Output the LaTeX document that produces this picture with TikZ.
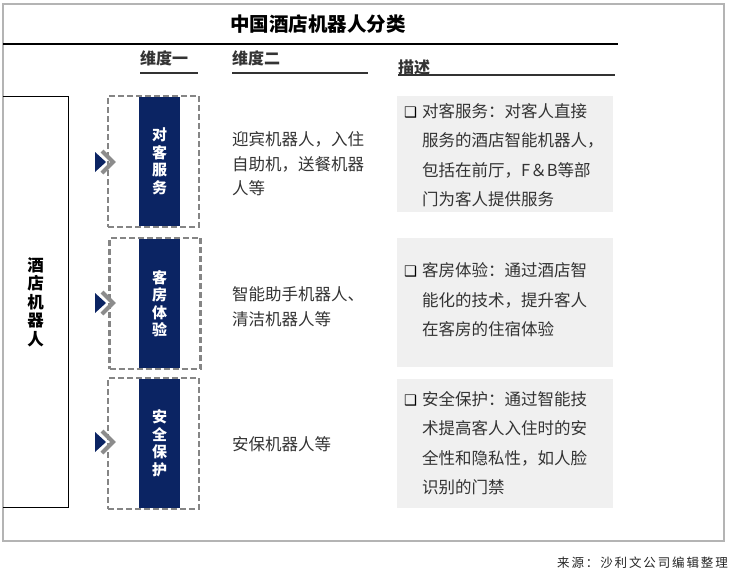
\documentclass[tikz,border=0pt]{standalone}
\usepackage{fontspec}
\setmainfont{Noto Sans CJK SC}
\newfontfamily\symfont{DejaVu Sans}
\usepackage{xcolor}
\usetikzlibrary{positioning}
\definecolor{navy}{HTML}{0B2463}
\definecolor{framegray}{HTML}{B4B4B4}
\definecolor{dashgray}{HTML}{858585}
\definecolor{chevgray}{HTML}{8C8C8C}
\definecolor{descfill}{HTML}{F0F0F0}
\definecolor{textgray}{HTML}{333333}
\newcommand{\boxmark}{\llap{{\color{black}\symfont\bfseries\fontsize{14.5}{14.5}\selectfont ❑}\hspace{5pt}}}

\begin{document}
\begin{tikzpicture}[
    x=1pt, y=-1pt,
    titletext/.style={font=\bfseries\fontsize{19.5}{22}\selectfont, text=black, inner sep=0pt},
    headtext/.style={font=\bfseries\fontsize{16}{18}\selectfont, text=textgray, inner sep=0pt, anchor=west},
    uline/.style={draw=textgray, line width=1.4pt},
    dimbox/.style={draw=dashgray, line width=2.2pt, dash pattern=on 6pt off 3pt, minimum width=91pt, minimum height=131pt, inner sep=0pt},
    navybar/.style={fill=navy, minimum width=41pt, minimum height=129pt, inner sep=0pt, align=center, text=white, font=\bfseries\fontsize{15}{17.5}\selectfont},
    dimtext/.style={anchor=west, align=left, inner sep=0pt, text=textgray, font=\fontsize{16.5}{24.5}\selectfont},
    descbox/.style={fill=descfill, minimum width=216pt, inner sep=0pt},
    desctext/.style={anchor=west, align=left, inner sep=0pt, text=textgray, font=\fontsize{16.5}{29.5}\selectfont},
    chev/.style={draw=chevgray, line width=4pt},
    tri/.style={fill=navy}
]
\useasboundingbox (0,0) rectangle (730,576);

% outer frame and title
\draw[framegray, line width=1.2pt] (3,4) rectangle (724,541);
\node[titletext] (title) at (318,24) {中国酒店机器人分类};
\draw[black, line width=2.4pt] (3,44) -- (618,44);

% column headers
\node[headtext] (h1) at (140,58) {维度一};
\node[headtext] (h2) at (232,58) {维度二};
\node[headtext] (h3) at (398,67) {描述};
\draw[uline] (140,73) -- (198,73);
\draw[uline] (232,73) -- (368,73);
\draw[uline] (398,75) -- (615,75);

% left box
\node[minimum width=65pt, minimum height=410pt, inner sep=0pt] (hotel) at (35.5,302) {};
\draw[black, line width=0.8pt] (hotel.north west) -- (hotel.north east) -- (hotel.south east) -- (hotel.south west);
\node[font=\bfseries\fontsize{16.5}{18.5}\selectfont, align=center, inner sep=0pt] (hoteltext) at (hotel.center) {酒\\店\\机\\器\\人};

% dimension one
\node[dimbox] (d1) at (153.5,161.5) {};
\node[dimbox] (d2) at (155,303.5) {};
\node[dimbox] (d3) at (153.5,443.5) {};
\node[navybar] (n1) at (159.5,161.5) {对\\客\\服\\务};
\node[navybar] (n2) at (159.5,303.5) {客\\房\\体\\验};
\node[navybar] (n3) at (159.5,443.5) {安\\全\\保\\护};

% arrows in front of the boxes
\coordinate (tip1) at (106,162);
\coordinate (tip2) at (106,303);
\coordinate (tip3) at (106,442);
\fill[tri] (tip1) -- ++(-11,-10) -- ++(0,20) -- cycle;
\fill[tri] (tip2) -- ++(-11,-10) -- ++(0,20) -- cycle;
\fill[tri] (tip3) -- ++(-11,-10) -- ++(0,20) -- cycle;
\draw[chev] (tip1) ++(-4,-11) -- ++(11,11) -- ++(-11,11);
\draw[chev] (tip2) ++(-4,-11) -- ++(11,11) -- ++(-11,11);
\draw[chev] (tip3) ++(-4,-11) -- ++(11,11) -- ++(-11,11);

% dimension two
\node[dimtext] (t1) at (232,164) {迎宾机器人，入住\\自助机，送餐机器\\人等};
\node[dimtext] (t2) at (232,306.5) {智能助手机器人、\\清洁机器人等};
\node[dimtext] (t3) at (232,444) {安保机器人等};

% descriptions
\node[descbox, minimum height=116pt] (b1) at (505,154) {};
\node[descbox, minimum height=129pt] (b2) at (505,302.5) {};
\node[descbox, minimum height=129pt] (b3) at (505,443.5) {};
\node[desctext] (s1) at (422,155) {\boxmark 对客服务：对客人直接\\服务的酒店智能机器人，\\包括在前厅，F＆B等部\\门为客人提供服务};
\node[desctext] (s2) at (422,300) {\boxmark 客房体验：通过酒店智\\能化的技术，提升客人\\在客房的住宿体验};
\node[desctext] (s3) at (422,443) {\boxmark 安全保护：通过智能技\\术提高客人入住时的安\\全性和隐私性，如人脸\\识别的门禁};

% source
\node[anchor=east, inner sep=0pt, text=black!85, font=\fontsize{12.5}{14}\selectfont\addfontfeature{LetterSpace=15}] (src) at (728,563) {来源：沙利文公司编辑整理};
\end{tikzpicture}
\end{document}
